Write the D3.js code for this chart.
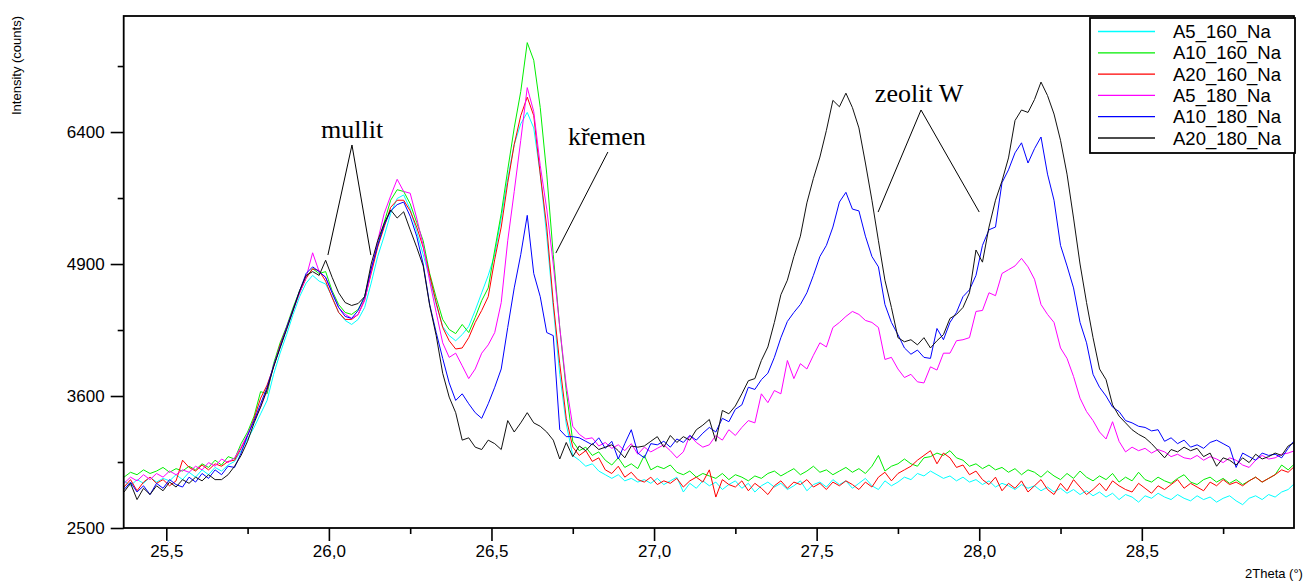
<!DOCTYPE html>
<html>
<head>
<meta charset="utf-8">
<script src="https://cdn.jsdelivr.net/npm/d3@7"></script>
<style>
  body { margin: 0; background: #fff; }
  svg { display: block; }
  text { font-family: Arial, "Liberation Sans", sans-serif; fill: #000; }
</style>
</head>
<body>
<svg></svg>
<script>
// -----------------------------
// DATA
// -----------------------------
const scanStart = 25.37;   // 2Theta of first point
const scanStep = 0.02;     // scan step (deg)

const seriesNames = ["A5_160_Na", "A10_160_Na", "A20_160_Na", "A5_180_Na", "A10_180_Na", "A20_180_Na"];
const seriesColors = ["#00ffff", "#00ee00", "#ff0000", "#ff00ff", "#0000ff", "#111111"];

const a5_160 = [
  2870, 2830, 2880, 2850, 2900, 2860, 2890, 2870, 2920, 2880,
  2940, 2900, 2960, 2920, 2980, 2950, 3000, 3030, 3120, 3220,
  3320, 3440, 3560, 3800, 4000, 4180, 4380, 4560, 4700, 4780,
  4720, 4690, 4560, 4400, 4320, 4280, 4330, 4450, 4700, 4980,
  5200, 5450, 5620, 5660, 5500, 5250, 5000, 4750, 4480, 4260,
  4170, 4120, 4180, 4260, 4420, 4600, 4780, 5000, 5400, 5850,
  6250, 6500, 6640, 6450, 5900, 5200, 4450, 3800, 3350, 3080,
  3040, 2990, 3010, 2950, 2920, 2890, 2920, 2870, 2890, 2860,
  2880, 2850, 2890, 2840, 2870, 2900, 2780, 2850, 2810, 2870,
  2830, 2860, 2800, 2840, 2870, 2810, 2850, 2780, 2830, 2860,
  2820, 2850, 2800, 2830, 2870, 2790, 2840, 2860, 2820, 2880,
  2840, 2870, 2810, 2850, 2890, 2830, 2800, 2870, 2830, 2860,
  2900, 2880, 2930, 2910, 2950, 2920, 2890, 2910, 2870, 2900,
  2860, 2880, 2840, 2870, 2820, 2850, 2830, 2800, 2840, 2810,
  2830, 2790, 2820, 2780, 2810, 2770, 2800, 2760, 2790, 2750,
  2780, 2740, 2770, 2720, 2760, 2740, 2700, 2750, 2730, 2770,
  2740, 2720, 2760, 2730, 2710, 2750, 2720, 2740, 2700, 2730,
  2750, 2710, 2680, 2730, 2750, 2720, 2760, 2740, 2780, 2800,
  2850
];

const a10_160 = [
  2900, 2940, 2920, 2960, 2930, 2950, 2980, 2940, 2970, 2950,
  2990, 2960, 3010, 2980, 3040, 3000, 3070, 3050, 3180, 3280,
  3420, 3640, 3620, 3900, 4100, 4260, 4450, 4620, 4760, 4850,
  4800, 4820, 4620, 4480, 4400, 4380, 4430, 4560, 4830, 5100,
  5350, 5600, 5720, 5700, 5560, 5350, 5150, 4800, 4550, 4330,
  4230, 4190, 4280, 4200, 4350, 4520, 4650, 5050, 5450, 5950,
  6450, 6900, 7530, 7300, 6700, 5900, 5000, 4250, 3650, 3200,
  3120, 3150, 3080, 3110, 3040, 3000, 3060, 2980, 3010, 2970,
  3080, 2960, 2990, 2970, 3000, 2940, 2920, 2950, 2900, 2930,
  2910, 2890, 2930, 2880, 2920, 2900, 2870, 2910, 2890, 2930,
  2950, 2910, 2940, 2970, 2920, 2950, 2990, 2940, 2960, 2920,
  2950, 2980, 2940, 2970, 2930, 2990, 3080, 2950, 2990, 3010,
  3050, 3010, 2990, 3060, 3070, 3100, 3080, 3120, 3060, 3040,
  2990, 3010, 2970, 3000, 2960, 2980, 2940, 2970, 2920, 2960,
  2940, 2900, 2950, 2910, 2880, 2930, 2890, 2950, 2900, 2870,
  2910, 2880, 2930, 2860, 2900, 2870, 2940, 2880, 2860, 2900,
  2870, 2850, 2890, 2920, 2860, 2840, 2880, 2900, 2860, 2890,
  2850, 2880, 2840, 2870, 2900, 2860, 2890, 2920, 3000, 2960,
  3010
];

const a20_160 = [
  2820, 2880, 2790, 2860, 2900, 2850, 2880, 2830, 2870, 3040,
  2980, 2950, 3000, 2960, 3010, 2990, 3030, 3040, 3140, 3250,
  3400, 3580, 3700, 3870, 4080, 4250, 4430, 4600, 4750, 4850,
  4830, 4720, 4550, 4400, 4330, 4330, 4380, 4530, 4800, 5080,
  5300, 5520, 5600, 5600, 5480, 5300, 5080, 4780, 4500, 4250,
  4120, 4040, 4050, 4150, 4300, 4420, 4560, 4950, 5300, 5800,
  6250, 6600, 6830, 6600, 5900, 5300, 4500, 3900, 3400, 3150,
  3080, 3120, 3030, 3060, 2960, 2930, 2990, 2900, 2940, 2880,
  2860, 2900, 2840, 2870, 2850, 2890, 2820, 2870, 2900, 2860,
  2960, 2740, 2880, 2840, 2820, 2870, 2790, 2850, 2810, 2760,
  2830, 2870, 2810, 2860, 2840, 2880, 2820, 2850, 2800, 2860,
  2830, 2870, 2840, 2800, 2860, 2820, 2900, 2940, 2870, 2930,
  2960, 2990, 3040, 3080, 3120, 3010, 3100, 3060, 2980, 3000,
  2920, 2950, 2880, 2840, 2900, 2790, 2850, 2810, 2870, 2780,
  2830, 2880, 2800, 2760, 2850, 2790, 2880, 2820, 2760, 2800,
  2850, 2790, 2870, 2830, 2800, 2780, 2850, 2810, 2770, 2830,
  2800, 2840, 2880, 2810, 2850, 2820, 2790, 2860, 2830, 2880,
  2840, 2860, 2830, 2870, 2900, 2860, 2890, 2920, 2960, 2940,
  2990
];

const a5_180 = [
  2850, 2900, 2870, 2920, 2880, 2930, 2900, 2950, 2920, 2960,
  2940, 2990, 2960, 3020, 2990, 3050, 3020, 3060, 3150, 3260,
  3380, 3500, 3650, 3880, 4060, 4240, 4420, 4600, 4760, 5020,
  4820, 4760, 4600, 4450, 4380, 4340, 4380, 4520, 4820, 5150,
  5450, 5650, 5840, 5700, 5680, 5400, 5100, 4720, 4400, 4100,
  3960, 4000, 3880, 3760, 3850, 4000, 4080, 4200, 4500, 5150,
  5700, 6300, 6950, 6650, 6000, 5500, 4900, 4250, 3700, 3330,
  3260, 3220, 3230, 3160, 3190, 3140, 3170, 3120, 3180, 3090,
  3150, 3110, 3140, 3170, 3120, 3060, 3110, 3250, 3190, 3150,
  3170, 3250, 3210, 3300, 3250, 3320, 3380, 3360, 3620, 3540,
  3650, 3620, 3930, 3760, 3900, 3850, 3980, 4100, 4060, 4250,
  4300, 4360, 4410, 4380, 4320, 4300, 4250, 3940, 3960, 3850,
  3770, 3800, 3730, 3720, 3870, 3840, 4000, 4000, 4120, 4130,
  4150, 4410, 4420, 4600, 4570, 4800, 4840, 4880, 4960, 4870,
  4740, 4480, 4380, 4300, 4050, 3950, 3780, 3580, 3460, 3380,
  3280, 3220, 3370, 3200, 3110, 3150, 3120, 3140, 3100, 3130,
  3110, 3070, 3090, 3060, 3050, 3080, 3040, 3070, 3050, 3020,
  3060, 3040, 3000, 2980, 3040, 3080, 3050, 3060, 3090, 3100,
  3120
];

const a10_180 = [
  2800, 2860, 2780, 2830, 2760, 2850, 2810, 2880, 2840, 2820,
  2900, 2860, 2930, 2890, 2960, 2920, 2990, 2980, 3100, 3250,
  3380, 3530, 3680, 3880, 4060, 4250, 4430, 4620, 4800, 4870,
  4820, 4760, 4600, 4450, 4360, 4340, 4420, 4560, 4850, 5100,
  5320, 5480, 5550, 5580, 5420, 5200, 4900, 4480, 4200, 3950,
  3720, 3560, 3620, 3530, 3450, 3400, 3530, 3680, 3850, 4250,
  4650, 5000, 5430, 4800, 4560, 4200, 4170, 3300, 3240, 3240,
  3230, 3200, 3170, 3230, 3140, 3200, 3050, 3180, 3300, 3100,
  3060, 3180, 3170, 3200, 3150, 3220, 3190, 3250, 3210, 3270,
  3320, 3280, 3400, 3370, 3480, 3520, 3680, 3660, 3750, 3810,
  3960, 4150, 4310, 4400, 4480, 4600, 4780, 4980, 5100, 5300,
  5580, 5690, 5500, 5480, 5200, 4980, 4870, 4480, 4300, 4180,
  4050, 3990, 4030, 3960, 3950, 4240, 4130, 4300, 4400, 4560,
  4630, 4780, 5100, 5270, 5300, 5800, 5950, 6150, 6270, 6030,
  6200, 6340, 5900, 5600, 5100, 4880, 4650, 4300, 4100, 3800,
  3680, 3600, 3500, 3460, 3380, 3360, 3330, 3320, 3290, 3300,
  3200, 3230, 3180, 3210, 3150, 3170, 3140, 3190, 3210, 3180,
  3150, 2980, 3100, 3070, 3040, 3100, 3080, 3090, 3060, 3140,
  3210
];

const a20_180 = [
  2780, 2850, 2720, 2810, 2760, 2830, 2790, 2860, 2820, 2880,
  2850, 2900, 2870, 2920, 2880, 2880, 2920, 2990, 3080, 3200,
  3360, 3500, 3660, 3870, 4050, 4230, 4420, 4620, 4780, 4820,
  4780, 4940, 4760, 4600, 4500, 4470, 4490, 4560, 4900, 5150,
  5340, 5490, 5400, 5470, 5270, 5080, 4880, 4470, 4170, 3810,
  3590, 3450, 3210, 3230, 3150, 3130, 3210, 3180, 3130, 3380,
  3280, 3360, 3450, 3360, 3330, 3280, 3210, 3050, 3190, 3070,
  3160, 3120, 3180, 3130, 3150, 3170, 3120, 3060, 3160, 3150,
  3160, 3200, 3240, 3150, 3250, 3190, 3240, 3210, 3300, 3340,
  3390, 3200, 3470, 3440, 3510, 3620, 3740, 3760, 3930, 4060,
  4300, 4580, 4730, 4980, 5200, 5570, 5850, 6100, 6420, 6790,
  6710, 6880, 6700, 6450, 6030, 5600, 5150, 4730, 4450, 4150,
  4110, 4130, 4080, 4150, 4050, 4120, 4180, 4340, 4380, 4450,
  4600, 5050, 4920, 5300, 5600, 5820, 6090, 6540, 6670, 6640,
  6800, 7020, 6850, 6620, 6300, 5900, 5400, 4900, 4500, 4150,
  3850, 3750, 3520, 3420, 3360, 3300, 3260, 3230, 3180, 3120,
  3060, 3130, 3110, 3150, 3120, 3140, 3070, 3100, 2990, 3060,
  3040, 3000, 3060, 3020, 3090, 3050, 3070, 3100, 3080, 3160,
  3190
];

const seriesValues = [a5_160, a10_160, a20_160, a5_180, a10_180, a20_180];

const xMajorTicks = [25.5, 26.0, 26.5, 27.0, 27.5, 28.0, 28.5];
const xMinorTicks = [25.75, 26.25, 26.75, 27.25, 27.75, 28.25, 28.75];
const yMajorTicks = [2500, 3600, 4900, 6400];
const yMinorTicks = [3025, 4225, 5625, 7225];

// phase labels: text anchor + leader line ends, in (2Theta, counts)
const annotations = [
  { text: "mullit", at: [25.976, 6327], apex: [26.071, 6244], ends: [[25.997, 4996], [26.129, 4996]] },
  { text: "křemen", at: [26.735, 6244], apex: [26.858, 6160], ends: [[26.698, 5017]] },
  { text: "zeolit W", at: [27.679, 6769], apex: [27.821, 6670], ends: [[27.689, 5467], [28.000, 5467]] }
];

// -----------------------------
// LAYOUT
// -----------------------------
const width = 1310;
const height = 582;
const margin = { top: 16, right: 16, bottom: 54, left: 123.7 };

const svg = d3.select("svg")
  .attr("width", width)
  .attr("height", height);

const x = d3.scaleLinear()
  .domain([25.369, 28.968])
  .range([margin.left, width - margin.right]);

// intensity axis is square-root scaled
const y = d3.scaleSqrt()
  .domain([2500, 7884])
  .range([height - margin.bottom, margin.top]);

svg.append("defs").append("clipPath")
  .attr("id", "plot-clip")
  .append("rect")
  .attr("x", x.range()[0])
  .attr("y", margin.top)
  .attr("width", x.range()[1] - x.range()[0])
  .attr("height", y.range()[0] - margin.top);

// -----------------------------
// AXES
// -----------------------------
const fmt = d => d3.format(".1f")(d).replace(".", ",");

svg.append("g")
  .attr("transform", `translate(0,${y.range()[0]})`)
  .call(d3.axisBottom(x).tickValues(xMajorTicks).tickSize(13).tickPadding(4).tickFormat(fmt));

svg.append("g")
  .attr("transform", `translate(0,${y.range()[0]})`)
  .call(d3.axisBottom(x).tickValues(xMinorTicks).tickSize(6).tickFormat(""));

svg.append("g")
  .attr("transform", `translate(${x.range()[0]},0)`)
  .call(d3.axisLeft(y).tickValues(yMajorTicks).tickSize(13).tickPadding(6).tickFormat(d3.format("d")));

svg.append("g")
  .attr("transform", `translate(${x.range()[0]},0)`)
  .call(d3.axisLeft(y).tickValues(yMinorTicks).tickSize(6).tickFormat(""));

svg.selectAll(".domain").remove();
svg.selectAll(".tick line").attr("stroke", "#000").attr("stroke-width", 1.6);
svg.selectAll(".tick text")
  .style("font-size", "17px")
  .style("font-family", "Arial, 'Liberation Sans', sans-serif")
  .attr("fill", "#000");

svg.append("text")
  .attr("transform", `translate(21,${margin.top}) rotate(-90)`)
  .attr("text-anchor", "end")
  .style("font-size", "13px")
  .text("Intensity (counts)");

svg.append("text")
  .attr("x", 1245)
  .attr("y", 578)
  .style("font-size", "13px")
  .text("2Theta (°)");

// -----------------------------
// LINES
// -----------------------------
const line = d3.line()
  .x((d, i) => x(scanStart + i * scanStep))
  .y(d => y(d));

const plot = svg.append("g").attr("clip-path", "url(#plot-clip)");

plot.selectAll("path")
  .data(seriesValues)
  .join("path")
  .attr("fill", "none")
  .attr("stroke", (d, i) => seriesColors[i])
  .attr("stroke-width", 1)
  .attr("stroke-linejoin", "miter")
  .attr("d", line);

// frame
svg.append("rect")
  .attr("x", x.range()[0])
  .attr("y", margin.top)
  .attr("width", x.range()[1] - x.range()[0])
  .attr("height", y.range()[0] - margin.top)
  .attr("fill", "none")
  .attr("stroke", "#000")
  .attr("stroke-width", 1.8);

// -----------------------------
// ANNOTATIONS
// -----------------------------
const notes = svg.append("g");

annotations.forEach(a => {
  a.ends.forEach(e => {
    notes.append("line")
      .attr("x1", x(a.apex[0])).attr("y1", y(a.apex[1]))
      .attr("x2", x(e[0])).attr("y2", y(e[1]))
      .attr("stroke", "#000")
      .attr("stroke-width", 1);
  });
  notes.append("text")
    .attr("x", x(a.at[0]))
    .attr("y", y(a.at[1]))
    .style("font-family", "'Liberation Serif', 'Times New Roman', serif")
    .style("font-size", "26px")
    .text(a.text);
});

// -----------------------------
// LEGEND
// -----------------------------
const legend = svg.append("g").attr("transform", "translate(1090,18)");

legend.append("rect")
  .attr("width", 205)
  .attr("height", 135)
  .attr("fill", "#fff")
  .attr("stroke", "#000")
  .attr("stroke-width", 1.8);

const item = legend.selectAll("g.item")
  .data(seriesNames)
  .join("g")
  .attr("class", "item")
  .attr("transform", (d, i) => `translate(0,${13.5 + i * 21.3})`);

item.append("line")
  .attr("x1", 8).attr("x2", 65)
  .attr("stroke", (d, i) => seriesColors[i])
  .attr("stroke-width", 1.3);

item.append("text")
  .attr("x", 83)
  .attr("dy", "0.36em")
  .style("font-size", "18.5px")
  .text(d => d);
</script>
</body>
</html>
